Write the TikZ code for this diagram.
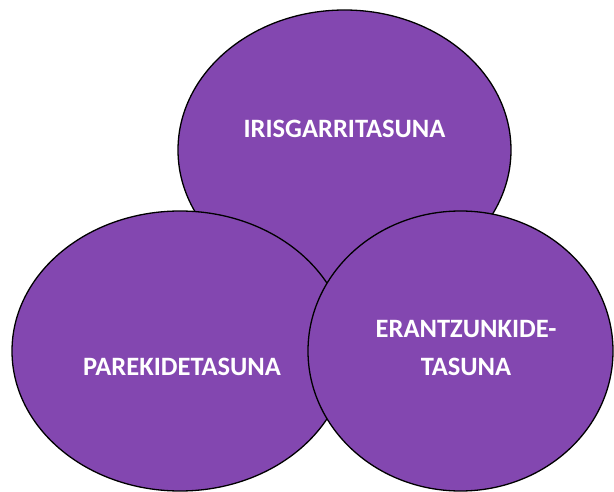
\documentclass[tikz,border=0pt]{standalone}
\usepackage{fontspec}
\setmainfont{Carlito}
\definecolor{vpurple}{HTML}{8347B0}
\begin{document}
\begin{tikzpicture}[x=1pt,y=-1pt,
  blob/.style={draw=black,line width=1.3pt,fill=vpurple},
  lbl/.style={text=white,font=\bfseries\fontsize{26.5}{38}\selectfont,align=center,inner sep=0pt}]
\useasboundingbox (0,0) rectangle (614,492);
\path[blob] (344.5,150) ellipse [x radius=166.5, y radius=140];
\path[blob] (180,351) ellipse [x radius=168, y radius=140];
\path[blob] (460.5,351) ellipse [x radius=152.5, y radius=140];
\node[lbl] (top) at (344.5,129) {IRISGARRITASUNA};
\node[lbl] (left) at (182,367) {PAREKIDETASUNA};
\node[lbl] (right) at (466,348) {ERANTZUNKIDE-\\TASUNA};
\end{tikzpicture}
\end{document}
